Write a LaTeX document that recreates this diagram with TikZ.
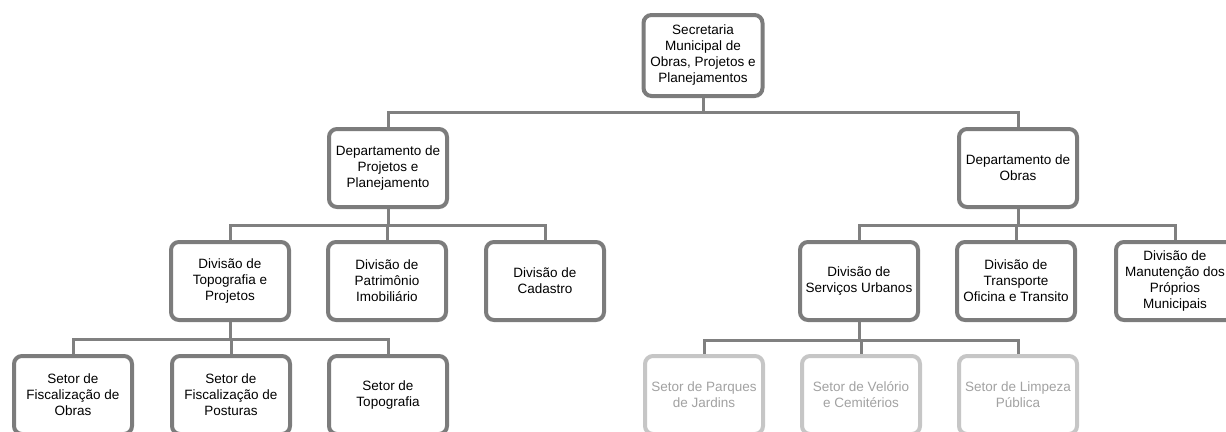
\documentclass[tikz,border=0pt]{standalone}
\usepackage{fontspec}
\setmainfont{Liberation Sans}
\definecolor{edgegray}{HTML}{808080}
\definecolor{framegray}{HTML}{7C7C7C}
\definecolor{palegray}{HTML}{C6C6C6}
\definecolor{paletext}{HTML}{A2A2A2}
\begin{document}
\begin{tikzpicture}[
        x=1pt, y=-1pt, % pixel grid, y grows downwards
        cell/.style={draw=framegray, line width=4pt, rounded corners=8pt, fill=white,
            minimum width=118pt, minimum height=78pt, inner sep=1pt, align=center,
            font=\fontsize{13.5}{16}\selectfont}, % box style
        fade/.style={cell, draw=palegray, text=paletext}, % pale boxes
        link/.style={draw=edgegray, line width=3pt},
    ]
    \useasboundingbox (0,0) rectangle (1226,431);
    \clip (0,0) rectangle (1226,431);

    % level 0 and 1
    \node[cell, minimum width=119pt, minimum height=81pt] (sec) at (703,55.5) {Secretaria\\Municipal de\\Obras, Projetos e\\Planejamentos};
    \node[cell] (dp) at (388,168) {Departamento de\\Projetos e\\Planejamento};
    \node[cell] (do) at (1018,168) {Departamento de\\Obras};

    % level 2
    \node[cell] (dtop) at (230,281) {Divisão de\\Topografia e\\Projetos};
    \node[cell] (dpat) at (387,281) {Divisão de\\Patrimônio\\Imobiliário};
    \node[cell] (dcad) at (545,281) {Divisão de\\Cadastro};
    \node[cell] (dser) at (859,281) {Divisão de\\Serviços Urbanos};
    \node[cell] (dtra) at (1016,281) {Divisão de\\Transporte\\Oficina e Transito};
    \node[cell] (dman) at (1175,281) {Divisão de\\Manutenção dos\\Próprios\\Municipais};

    % level 3
    \node[cell] (sfo) at (73,395) {Setor de\\Fiscalização de\\Obras};
    \node[cell] (sfp) at (231,395) {Setor de\\Fiscalização de\\Posturas};
    \node[cell] (stp) at (388,395) {Setor de\\Topografia};
    \node[fade] (spj) at (704,395) {Setor de Parques\\de Jardins};
    \node[fade] (svc) at (861,395) {Setor de Velório\\e Cemitérios};
    \node[fade] (slp) at (1018,395) {Setor de Limpeza\\Pública};

    % buses
    \coordinate (b0) at (703,112);
    \coordinate (b1) at (388,225);
    \coordinate (b2) at (1018,225);
    \coordinate (b3) at (230,339);
    \coordinate (b4) at (859,340);

    \draw[link] (sec.south) -- (b0);
    \draw[link] (b0) -| (dp.north);
    \draw[link] (b0) -| (do.north);

    \draw[link] (dp.south) -- (b1);
    \draw[link] (b1) -| (dtop.north);
    \draw[link] (b1) -| (dpat.north);
    \draw[link] (b1) -| (dcad.north);

    \draw[link] (do.south) -- (b2);
    \draw[link] (b2) -| (dser.north);
    \draw[link] (b2) -| (dtra.north);
    \draw[link] (b2) -| (dman.north);

    \draw[link] (dtop.south) -- (b3);
    \draw[link] (b3) -| (sfo.north);
    \draw[link] (b3) -| (sfp.north);
    \draw[link] (b3) -| (stp.north);

    \draw[link] (dser.south) -- (b4);
    \draw[link] (b4) -| (spj.north);
    \draw[link] (b4) -| (svc.north);
    \draw[link] (b4) -| (slp.north);
\end{tikzpicture}
\end{document}
